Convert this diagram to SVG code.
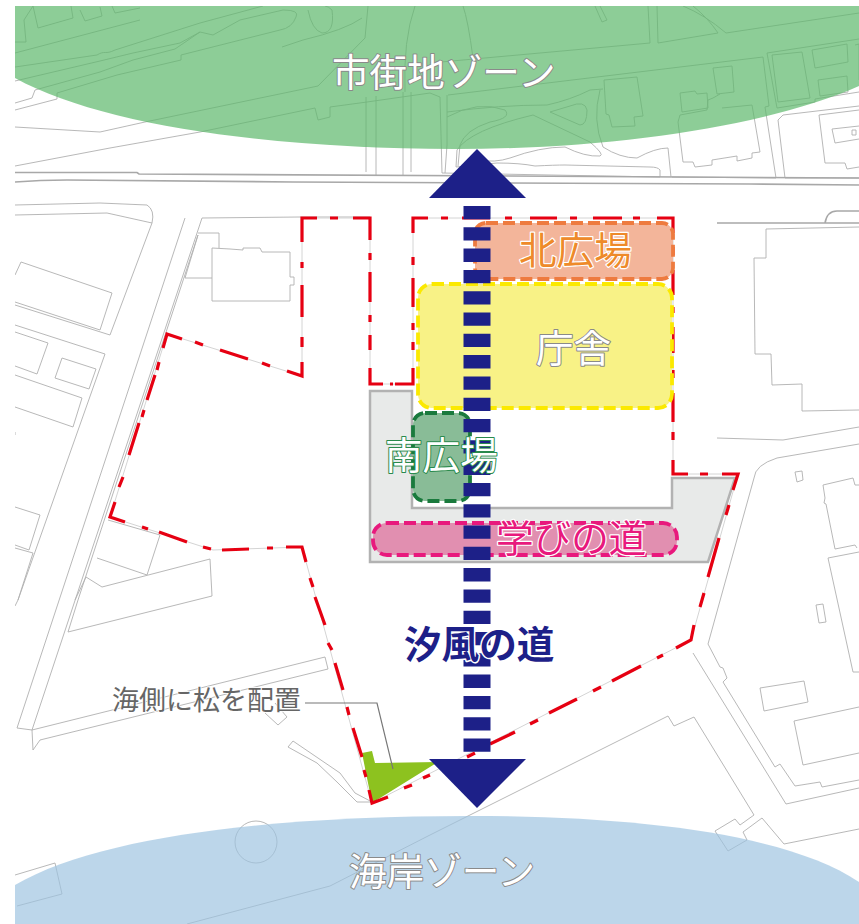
<svg xmlns="http://www.w3.org/2000/svg" width="859" height="924" viewBox="0 0 859 924">
<style>
.m{fill:none;stroke:#b0b0b0;stroke-width:.9;stroke-linejoin:round}
.r{fill:none;stroke:#a8a8a8;stroke-width:1.6}
.z{stroke-width:3.8;stroke-dasharray:12 5}
text{font-family:"Noto Sans CJK JP","Noto Sans",sans-serif;font-size:37.600px;paint-order:stroke;stroke-linejoin:round}
.w{fill:#fff;stroke:#8a8a8a;stroke-width:2}
</style>
<defs><clipPath id="c"><rect x="15" y="6" width="844" height="918"/></clipPath></defs>
<rect width="859" height="924" fill="#fff"/>
<g id="map" clip-path="url(#c)">
<path class="m" d="M15 53L140 20M33 6L38 28L73 18L71 6M80 10L85 21L102 16L100 7M112 6L115 13L140 8M15 42H26L24 20L33 6"/>
<path class="m" d="M15 67L97 55C105 50 105 55 115 50L200 23L263 6M15 81L100 61L133 53L180 43L200 32L213 35L240 20L283 10Q300 10 296 17Q292 28 280 30L181 55L181 60L117 75L57 93L57 99M15 103L32 98L35 90M15 110L57 99M35 90L100 72L133 60L175 49L200 32"/>
<path class="m" d="M15 127L100 132L145 122L318 86L365 38L368 6M308 10Q312 30 322 33Q335 33 332 10Q328 6 325 6M362 18Q345 30 303 40L282 47"/>
<path class="m" d="M15 166L110 148L200 132L315 108L318 120L330 117L330 107L367 102L430 93L440 97L442 173M366 97V172M376 96V175M403 92V175M411 92V172"/>
<path class="m" d="M405 92Q403 40 415 6M448 95L763 57M447 95V117V145L445 173M430 63L650 43L648 6M463 6Q468 20 473 58M657 6L658 43L718 33Q708 18 693 6M595 6L602 22L607 20L600 6M683 6Q705 15 726 33L859 13"/>
<path class="m" d="M442 173L660 177V170Q658 167 650 167L565 165Q555 165 535 166Q520 163 497 163L456 167L457 150Q470 130 533 115L590 142Q605 155 600 156Q585 157 565 147Q540 147 510 158Q495 163 478 160M447 117Q478 100 505 110Q512 118 490 122Q465 130 460 145L458 166M447 112Q500 105 547 105Q570 100 590 90L603 89M550 112L570 106Q585 100 587 110Q587 125 580 125ZM600 90Q592 120 603 147Q620 158 637 158Q655 148 668 148L671 177"/>
<path class="m" d="M604 80L637 77L643 116L634 117L635 126L612 127L609 115L606 114ZM680 93L695 91L697 94L707 93L708 108L682 112ZM713 68L732 66L734 92L717 94ZM722 108L752 105L760 152L752 153L752 158L737 161L737 156L712 160L712 165L695 167L693 162L683 162L678 122L680 115L707 110L708 100L713 98L720 94"/>
<path class="m" d="M763 57L769 106L765 107L776 178L672 177M767 53L859 39M767 53L777 108L815 102L815 99L859 92M772 55L802 52L810 98L778 102ZM812 50L847 44L848 62L815 68ZM818 80L847 76L848 92L820 96ZM855 45L859 44V80"/>
<path class="m" d="M859 106L783 115L778 120L785 178H859M859 110L819 115L825 163L845 163L847 169L859 167M859 126L832 129L835 143L859 139"/><rect class="m" x="852" y="130" width="4" height="5"/>
<path class="r" d="M15 172.500H137L139 174L859 178M15 182Q40 180 67 180L293 182L750 184L859 185"/>
<path class="r" d="M717 223H859M825 223Q827 211 837 211H859"/>
<path class="m" d="M859 227L766 229L766 258L754 258L755 354L771 354L772 385L802 384L802 411L859 410M717 438L783 440L859 427M859 444L777 458Q755 465 754 478L708 644L720 667L723 668L727 678L723 682L775 767L780 764L795 786L820 782L822 787L859 780M795 472L802 471L803 480L797 482ZM859 485L855 485L853 478L823 485L825 498L824 503L826 504L835 549L855 545L857 548M859 552L828 558L853 672H859M816 605L823 604L826 622L819 623Z"/>
<path class="m" d="M15 205L100 203L147 205Q155 210 152 223L110 335L15 305M15 215L107 213L152 223M15 275L21 262L112 293L100 330L15 302M15 325L105 354L18 600L15 606M185 218L17 728M202 218L32 730M198 235L78 600M202 218L300 217H370M198 233H219V248M198 235L185 278H212"/>
<path class="m" d="M212 248L230 249L243 250L243 248L260 248L262 252L290 252L290 277L294 277L294 285L290 285L290 301L212 301ZM15 332L48 343L37 374L15 366M62 358L96 369L89 389L55 378ZM15 375L82 398L73 427L15 407M15 432V435M15 507L40 515L29 550L15 545M15 548L33 553L18 600M108 520L160 535L147 575L97 558M210 559L102 587L86 577L75 600M210 559L212 596L68 632L78 600"/>
<path class="m" d="M17 728L32 730L325 657L328 669L40 740L33 750L32 730M265 713L278 725L287 717L275 703M288 747L293 741L340 773L355 793L372 802L357 802L337 782L317 763ZM15 875L55 863L62 894L17 906"/>
<circle class="m" cx="256" cy="842" r="21"/>
<path class="m" d="M187 924L330 886L430 835L668 716L674 726L694 717L754 815L740 825L735 819L715 831L728 851L747 840L743 832L762 818L784 844L859 829M693 653L786 804L859 788M760 688L804 681L808 702L764 711ZM859 707L794 721L803 765L859 753"/>
</g>
<path id="zone-city" fill="#5cb86b" fill-opacity=".7" d="M15 6V78C100 125 270 149 455 149C620 149 770 125 859 86V6Z"/>
<path id="zone-coast" fill="#9cc3e0" fill-opacity=".68" d="M15 885C100 835 280 816 470 816C640 816 790 835 859 882V924H15Z"/>
<polygon id="pine" fill="#8dc21f" points="362,753 372,751 375,763 438,762 372,803"/>
<polygon id="plaza-base" fill="#e8eae9" stroke="#b2b2b2" stroke-width="2.500" points="370,391 412,391 412,508 672,508 672,478 735,478 708,562 370,562"/>
<g id="boundary">
<path fill="none" stroke="#d4d4d4" stroke-width="1" d="M302 218H370V384H413V218H673V474H738L691 640L372 803L302 547L213 550L110 517L167 334L302 376Z"/>
<path fill="none" stroke="#e60012" stroke-width="3.200" stroke-linejoin="miter" d="M302 242V218H317M330 218H338M353 218H370V240M370 253V260M370 272V302M370 315V322M370 335V350M370 368V384H383M390 384H393M395 384H413V368M413 350V342M413 330V323M413 307V278M413 265V257M413 233V218H428M441 218H448M462 218H490M505 218H512M530 218H557M570 218H577M593 218H622M633 218H640M657 218H673V233M673 247V255M673 270V295M673 307V313M673 327V353M673 370V378M673 393V422M673 432V440M673 460V474H688M700 474H708M722 474H738L733 490M729 505L726 515M719 538L708 577M704 593L700 607M694 625L691 640L676 648M663 655L657 658M641 666L612 681M601 687L593 691M577 699L549 713M538 720L530 724M515 732L490 744M475 753L467 757M430 775L423 778M412 785L404 788M388 797L372 803L369 790M366 777L364 770M362 757L353 728M349 715L347 707M343 690L335 663M332 650L328 643M325 625L315 597M313 587L310 578M306 562L302 547H286M273 548L267 548M249 549L222 550M211 549L203 547M187 542L159 532M148 529L142 527M125 522L110 517L115 502M119 487L123 477M129 455L139 423M142 417L144 410M147 400L155 375M157 370L159 362M163 348L167 334L182 339M195 342L203 345M220 350L248 359M262 363L270 366M287 371L302 376V362M302 347V337M302 317V285M302 268V262"/>
</g>
<g id="north-plaza"><rect class="z" x="475" y="223" width="198" height="56" rx="11" fill="#f3b59a" stroke="#ee7b3f"/></g>
<g id="office"><rect class="z" x="418" y="284" width="254" height="124" rx="14" fill="#f8f286" stroke="#fbe900"/></g>
<g id="south-plaza"><rect class="z" x="413" y="413" width="57" height="88" rx="12" fill="#89bc97" stroke="#1a7a3d"/></g>
<g id="learning-path"><rect class="z" x="373" y="523" width="304" height="32" rx="14" fill="#e18fb0" stroke="#e8197d"/></g>
<g id="connectors">
<path d="M477 206V752" fill="none" stroke="#1d2088" stroke-width="27" stroke-dasharray="13.300 8"/>
<polygon fill="#1d2088" points="477,149 526,198 429,198"/>
<polygon fill="#1d2088" points="429,759 526,759 477,808"/>
<path d="M305 703H377L393 769" fill="none" stroke="#777" stroke-width="1.200"/>
</g>
<text x="332" y="86" class="w">市街地ゾーン</text>
<text x="349" y="885" class="w">海岸ゾーン</text>
<text x="519" y="264" fill="#ee8a2a" stroke="#fff" stroke-width="2.400">北広場</text>
<text x="536" y="362" class="w">庁舎</text>
<text x="385" y="469" fill="#fff" stroke="#2a8a4d" stroke-width="2">南広場</text>
<text x="496" y="552" fill="#e8197d" stroke="#fff" stroke-width="2.400">学びの道</text>
<text x="404" y="658" fill="#1d2088" stroke="#fff" stroke-width="3" font-weight="700">汐風の道</text>
<text x="112" y="710" fill="#666" stroke="#fff" stroke-width="1.500" style="font-size:27px">海側に松を配置</text>
</svg>
